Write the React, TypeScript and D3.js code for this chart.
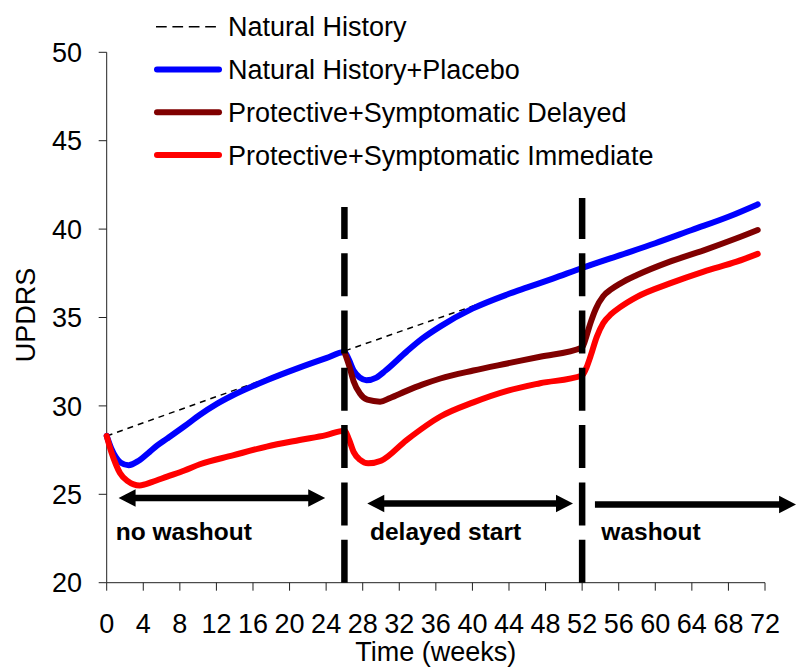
import React from "react";
import * as d3 from "d3";

// ---- data ----
const naturalWeeks = [0, 26, 52, 71.2];
const naturalValues = [28.3, 33.1, 37.8, 41.3];

const placeboWeeks = [0, 0.5, 1, 1.5, 2.4, 3.5, 4.7, 5.5, 6.6, 8.5, 10.2, 12, 13.8, 17.5, 21, 24, 26, 26.5, 27, 27.7, 28.4, 29.5, 30.5, 32.8, 34.5, 36.5, 40, 43.8, 46, 48.8, 52, 56, 60, 64, 68, 71.2];
const placeboValues = [28.3, 27.6, 27.1, 26.8, 26.65, 26.9, 27.4, 27.75, 28.15, 28.85, 29.5, 30.1, 30.6, 31.45, 32.15, 32.7, 33.05, 32.6, 32.0, 31.6, 31.45, 31.6, 32.0, 33.07, 33.8, 34.5, 35.5, 36.3, 36.7, 37.2, 37.8, 38.5, 39.2, 39.95, 40.7, 41.4];

const delayedWeeks = [26, 26.5, 27, 27.7, 28.5, 29.9, 31, 32.8, 34.5, 36.5, 40.1, 43.8, 47.4, 52, 52.5, 52.9, 53.5, 54.3, 55.2, 56.2, 58, 61.6, 65.3, 68.9, 71.2];
const delayedValues = [33.05, 32.3, 31.4, 30.7, 30.35, 30.24, 30.45, 30.85, 31.2, 31.55, 32.0, 32.4, 32.78, 33.3, 34.0, 34.67, 35.5, 36.2, 36.6, 36.93, 37.4, 38.16, 38.8, 39.48, 39.95];

const immediateWeeks = [0, 0.5, 1, 1.45, 2.3, 3.6, 5, 6.6, 8.5, 10.2, 13.8, 17.5, 21.1, 24, 26, 26.5, 27, 27.7, 28.6, 30, 32.8, 36.5, 40.1, 43.8, 47.4, 52, 52.5, 52.9, 53.6, 54.3, 55.2, 56.2, 58, 61.6, 65.3, 68.9, 71.2];
const immediateValues = [28.3, 27.4, 26.7, 26.2, 25.75, 25.5, 25.7, 26.0, 26.35, 26.7, 27.2, 27.7, 28.07, 28.35, 28.6, 28.1, 27.4, 26.95, 26.75, 26.9, 28.07, 29.4, 30.2, 30.85, 31.28, 31.72, 32.2, 32.78, 33.9, 34.67, 35.2, 35.6, 36.17, 36.93, 37.6, 38.16, 38.6];

const xTicks = d3.range(0, 73, 4);
const yTicks = [20, 25, 30, 35, 40, 45, 50];
const phaseWeeks = [26, 52];

const seriesNames = ["Natural History", "Natural History+Placebo", "Protective+Symptomatic Delayed", "Protective+Symptomatic Immediate"];
const seriesColors = ["#000000", "#0000FF", "#800000", "#FF0000"];

const phaseLabels = ["no washout", "delayed start", "washout"];
const phaseLabelWeeks = [1.0, 28.8, 54.1];
const phaseLabelValue = 22.4;
// arrows: [startWeek, endWeek, value, double-headed]
const arrowStarts = [1.3, 28.5, 53.4];
const arrowEnds = [23.9, 51.0, 75.4];
const arrowValues = [24.79, 24.48, 24.42];
const arrowDouble = [true, true, false];

const W = 796;
const H = 670;
const FONT = "'Liberation Sans', Arial, Helvetica, sans-serif";

export default function App() {
  const x = d3.scaleLinear().domain([0, 72]).range([106.7, 765]);
  const y = d3.scaleLinear().domain([20, 50]).range([582.7, 52.3]);

  const line = d3
    .line<[number, number]>()
    .x((d) => x(d[0]))
    .y((d) => y(d[1]))
    .curve(d3.curveMonotoneX);

  const zip = (a: number[], b: number[]) => a.map((v, i) => [v, b[i]] as [number, number]);

  const natural = line(zip(naturalWeeks, naturalValues)) || "";
  const placebo = line(zip(placeboWeeks, placeboValues)) || "";
  const delayed = line(zip(delayedWeeks, delayedValues)) || "";
  const immediate = line(zip(immediateWeeks, immediateValues)) || "";

  const phaseTops = [207, 198];

  const arrowPath = (x0: number, x1: number, yy: number, dbl: boolean) => {
    const hl = 17;
    const hw = 8.7;
    const sw = 3.2;
    const parts: string[] = [];
    const s0 = dbl ? x0 + hl : x0;
    const s1 = x1 - hl;
    parts.push(`M${s0},${yy - sw}L${s1},${yy - sw}L${s1},${yy + sw}L${s0},${yy + sw}Z`);
    parts.push(`M${x1},${yy}L${x1 - hl},${yy - hw}L${x1 - hl},${yy + hw}Z`);
    if (dbl) parts.push(`M${x0},${yy}L${x0 + hl},${yy - hw}L${x0 + hl},${yy + hw}Z`);
    return parts.join("");
  };

  const legendY0 = 26.7;
  const legendStep = 42.8;

  return (
    <svg
      width={W}
      height={H}
      viewBox={`0 0 ${W} ${H}`}
      style={{ position: "absolute", left: 0, top: 0, background: "#fff" }}
      fontFamily={FONT}
    >
      <rect x={0} y={0} width={W} height={H} fill="#fff" />

      {/* axes */}
      <line x1={x(0)} x2={x(0)} y1={y(50)} y2={y(20)} stroke="#222" strokeWidth={1} />
      <line x1={x(0)} x2={x(72)} y1={y(20)} y2={y(20)} stroke="#222" strokeWidth={1} />
      {yTicks.map((t) => (
        <g key={"y" + t}>
          <line x1={x(0) - 8} x2={x(0)} y1={y(t)} y2={y(t)} stroke="#222" strokeWidth={1} />
          <text x={82} y={y(t) + 9.6} fontSize={27} textAnchor="end" fill="#000">
            {t}
          </text>
        </g>
      ))}
      {xTicks.map((t) => (
        <g key={"x" + t}>
          <line x1={x(t)} x2={x(t)} y1={y(20)} y2={y(20) + 8} stroke="#222" strokeWidth={1} />
          <text x={x(t)} y={633} fontSize={27} textAnchor="middle" fill="#000">
            {t}
          </text>
        </g>
      ))}
      <text x={(x(0) + x(72)) / 2} y={661} fontSize={27} textAnchor="middle" fill="#000">
        Time (weeks)
      </text>
      <text transform={`translate(35,315) rotate(-90)`} fontSize={27} textAnchor="middle" fill="#000">
        UPDRS
      </text>

      {/* series */}
      <path d={natural} fill="none" stroke={seriesColors[0]} strokeWidth={1.5} strokeDasharray="6 5" />
      <path d={placebo} fill="none" stroke={seriesColors[1]} strokeWidth={6} strokeLinecap="round" strokeLinejoin="round" />
      <path d={delayed} fill="none" stroke={seriesColors[2]} strokeWidth={6} strokeLinecap="round" strokeLinejoin="round" />
      <path d={immediate} fill="none" stroke={seriesColors[3]} strokeWidth={6} strokeLinecap="round" strokeLinejoin="round" />

      {/* phase boundaries */}
      {phaseWeeks.map((w, i) => (
        <line
          key={"p" + w}
          x1={x(w)}
          x2={x(w)}
          y1={y(20)}
          y2={phaseTops[i]}
          stroke="#000"
          strokeWidth={6.5}
          strokeDasharray="43 14.3"
        />
      ))}

      {/* arrows */}
      {arrowStarts.map((s, i) => (
        <path key={"a" + i} d={arrowPath(x(s), x(arrowEnds[i]), y(arrowValues[i]), arrowDouble[i])} fill="#000" />
      ))}
      {phaseLabels.map((l, i) => (
        <text key={"l" + i} x={x(phaseLabelWeeks[i])} y={y(phaseLabelValue)} fontSize={24.5} fontWeight="bold" fill="#000">
          {l}
        </text>
      ))}

      {/* legend */}
      {seriesNames.map((n, i) => {
        const ly = legendY0 + i * legendStep;
        return (
          <g key={"lg" + i}>
            {i === 0 ? (
              <line x1={156} x2={216} y1={ly} y2={ly} stroke="#000" strokeWidth={1.5} strokeDasharray="10.7 5.7" />
            ) : (
              <line x1={157} x2={219} y1={ly} y2={ly} stroke={seriesColors[i]} strokeWidth={6} strokeLinecap="round" />
            )}
            <text x={228} y={ly + 9.6} fontSize={27} fill="#000">
              {n}
            </text>
          </g>
        );
      })}
    </svg>
  );
}
